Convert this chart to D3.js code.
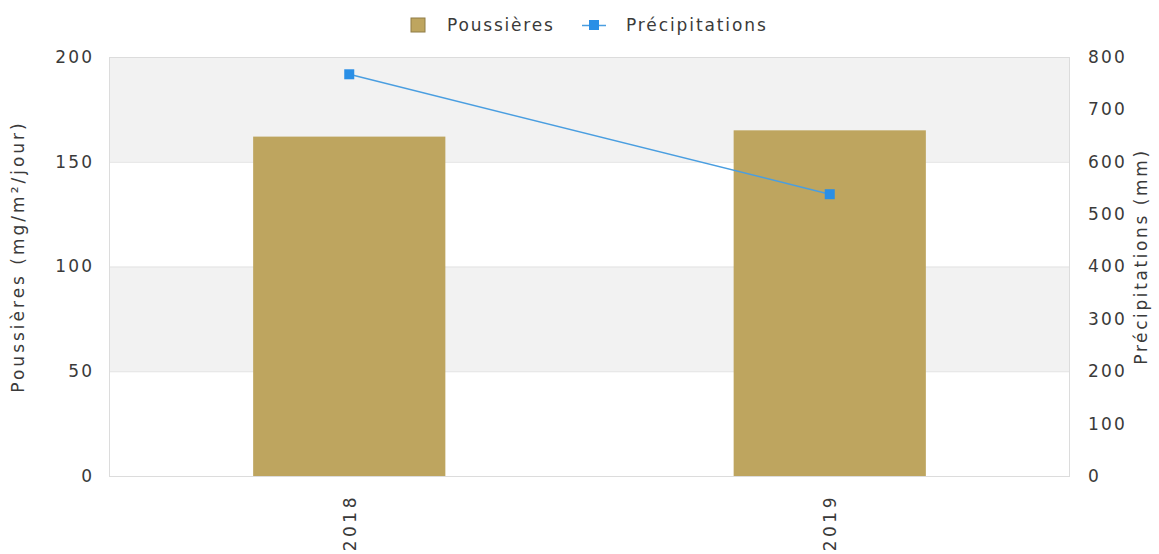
<!DOCTYPE html>
<html>
<head>
<meta charset="utf-8">
<script src="https://cdn.jsdelivr.net/npm/d3@7"></script>
<style>
  body { margin: 0; background: #fff; }
  svg { font-family: "DejaVu Sans", sans-serif; }
</style>
</head>
<body>
<svg width="1159" height="554"></svg>
<script>
const years = ['2018', '2019']
const poussieres = [162, 165]
const precipitations = [767, 538]
const leftTicks = [0, 50, 100, 150, 200]
const rightTicks = [0, 100, 200, 300, 400, 500, 600, 700, 800]

const svg = d3.select('svg')
const m = { left: 109, right: 1070, top: 57, bottom: 476 }
const textColor = '#3a3a3a'
const fs = 17
const ls = 2.2

const x = d3.scaleBand().domain(years).range([m.left, m.right]).paddingInner(0.6).paddingOuter(0.3)
const yL = d3.scaleLinear().domain([0, 200]).range([m.bottom, m.top])
const yR = d3.scaleLinear().domain([0, 800]).range([m.bottom, m.top])
const xc = d3.scalePoint().domain(years).range([m.left, m.right]).padding(0.5)

// alternating bands
const bands = d3.pairs(leftTicks)
svg.append('g').selectAll('rect').data(bands).join('rect')
  .attr('x', m.left).attr('width', m.right - m.left)
  .attr('y', d => yL(d[1])).attr('height', d => yL(d[0]) - yL(d[1]))
  .attr('fill', (d, i) => i % 2 ? '#f2f2f2' : '#fff')

// grid lines
svg.append('g').selectAll('line').data(leftTicks).join('line')
  .attr('x1', m.left).attr('x2', m.right)
  .attr('y1', d => yL(d) + 0.5).attr('y2', d => yL(d) + 0.5)
  .attr('stroke', '#e2e2e2')

// frame
svg.append('rect').attr('x', m.left + 0.5).attr('y', m.top + 0.5)
  .attr('width', m.right - m.left - 1).attr('height', m.bottom - m.top)
  .attr('fill', 'none').attr('stroke', '#dcdcdc')

// bars
svg.append('g').selectAll('rect').data(years).join('rect')
  .attr('x', d => xc(d) - x.bandwidth() / 2).attr('width', x.bandwidth())
  .attr('y', (d, i) => yL(poussieres[i]))
  .attr('height', (d, i) => yL(0) - yL(poussieres[i]))
  .attr('fill', '#bea55f')

// line
const line = d3.line().x(d => xc(d[0])).y(d => yR(d[1]))
const pts = years.map((y, i) => [y, precipitations[i]])
svg.append('path').datum(pts).attr('d', line)
  .attr('fill', 'none').attr('stroke', '#4a9ee0').attr('stroke-width', 1.5)
svg.append('g').selectAll('rect').data(pts).join('rect')
  .attr('x', d => xc(d[0]) - 5).attr('y', d => yR(d[1]) - 5)
  .attr('width', 10).attr('height', 10).attr('fill', '#2a8fe6')

function styleText (sel) {
  sel.attr('font-size', fs).attr('fill', textColor)
    .attr('font-family', '"DejaVu Sans", sans-serif')
    .attr('letter-spacing', ls)
}

// left axis
const axL = svg.append('g').attr('transform', `translate(${m.left - 17 + ls},0)`)
  .call(d3.axisLeft(yL).tickValues(leftTicks).tickSize(0).tickPadding(0))
axL.select('.domain').remove()
axL.selectAll('text').call(styleText)

// right axis
const axR = svg.append('g').attr('transform', `translate(${m.right + 18},0)`)
  .call(d3.axisRight(yR).tickValues(rightTicks).tickSize(0).tickPadding(0))
axR.select('.domain').remove()
axR.selectAll('text').call(styleText)

// bottom axis
const axB = svg.append('g').attr('transform', `translate(0,${m.bottom})`)
  .call(d3.axisBottom(xc).tickSize(0).tickPadding(0))
axB.select('.domain').remove()
axB.selectAll('text').call(styleText)
  .attr('letter-spacing', 3.5)
  .attr('text-anchor', 'end').attr('dy', '0.35em')
  .attr('transform', 'translate(0,18) rotate(-90)')

// axis titles
svg.append('text').attr('transform', `translate(24,${(m.top + m.bottom) / 2 - 10}) rotate(-90)`)
  .attr('text-anchor', 'middle').call(styleText).attr('letter-spacing', 3)
  .text('Poussières (mg/m²/jour)')
svg.append('text').attr('transform', `translate(1147,${(m.top + m.bottom) / 2 - 10}) rotate(-90)`)
  .attr('text-anchor', 'middle').call(styleText).attr('letter-spacing', 2.6)
  .text('Précipitations (mm)')

// legend
const lg = svg.append('g')
lg.append('rect').attr('x', 411).attr('y', 18).attr('width', 14).attr('height', 14)
  .attr('fill', '#bea55f').attr('stroke', '#8f7c47').attr('stroke-width', 1)
lg.append('text').attr('x', 447).attr('y', 31).call(styleText).attr('letter-spacing', 1.8).text('Poussières')
lg.append('line').attr('x1', 582).attr('x2', 606).attr('y1', 25.5).attr('y2', 25.5)
  .attr('stroke', '#4a9ee0').attr('stroke-width', 1.5)
lg.append('rect').attr('x', 589).attr('y', 20).attr('width', 10).attr('height', 10).attr('fill', '#2a8fe6')
lg.append('text').attr('x', 626).attr('y', 31).call(styleText).attr('letter-spacing', 1.9).text('Précipitations')
</script>
</body>
</html>
